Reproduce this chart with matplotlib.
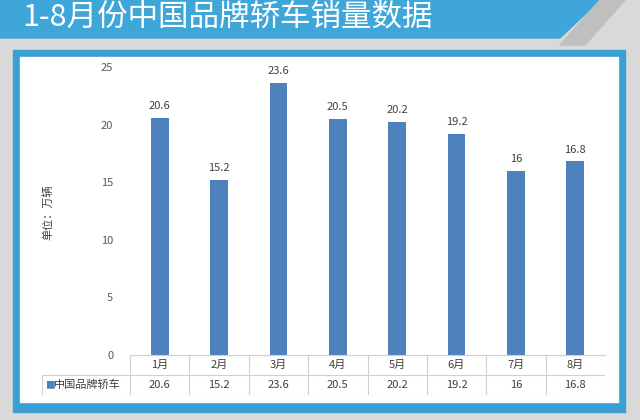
import matplotlib
matplotlib.use("Agg")
import matplotlib.pyplot as plt
from matplotlib.patches import Rectangle, Polygon

plt.rcParams['font.family'] = ['Noto Sans CJK SC', 'DejaVu Sans']

months = ["1月", "2月", "3月", "4月", "5月", "6月", "7月", "8月"]
sales = [20.6, 15.2, 23.6, 20.5, 20.2, 19.2, 16, 16.8]
labels = ["20.6", "15.2", "23.6", "20.5", "20.2", "19.2", "16", "16.8"]
series_name = "中国品牌轿车"
title = "1-8月份中国品牌轿车销量数据"
yticks = [0, 5, 10, 15, 20, 25]

W, H = 640, 420
fig = plt.figure(figsize=(6.4, 4.2), dpi=100)
fig.patch.set_facecolor("#d9d9d9")
bg = fig.add_axes([0, 0, 1, 1]); bg.set_xlim(0, W); bg.set_ylim(H, 0); bg.axis("off")
bg.add_patch(Polygon([[0, 0], [600, 0], [560, 38], [0, 38]], color="#3ea6d8"))
bg.add_patch(Polygon([[600, 0], [625, 0], [585, 45], [560, 45]], color="#bfbfbf"))
bg.text(22, 17, title, color="white", fontsize=22, va="center", ha="left")
bg.add_patch(Rectangle((13, 50), 612, 362, color="#3a9fd3"))
bg.add_patch(Rectangle((20, 57), 598, 345, color="white"))
bg.text(48, 212, "单位：万辆", rotation=90, fontsize=8, color="#404040", ha="center", va="center")

def px(x0, y0, x1, y1):
    return [x0 / W, 1 - y1 / H, (x1 - x0) / W, (y1 - y0) / H]

ax = fig.add_axes(px(130, 67, 605, 355))
x = list(range(len(months)))
ax.bar(x, sales, width=0.3, color="#4f81bd")
for xi, v, l in zip(x, sales, labels):
    ax.text(xi, v + 0.6, l, ha="center", va="bottom", fontsize=8, color="#404040")
ax.set_xlim(-0.5, len(months) - 0.5)
ax.set_ylim(0, 25)
ax.set_yticks(yticks)
ax.tick_params(axis="y", length=0, labelsize=8, labelcolor="#595959", pad=12)
ax.set_xticks([])
for s in ["top", "right", "left"]:
    ax.spines[s].set_visible(False)
ax.spines["bottom"].set_color("#d0d0d0")

# data table
tb = fig.add_axes(px(42, 355, 605, 395))
left = -0.5 - 88 / ((605 - 130) / 8)
tb.set_xlim(left, len(months) - 0.5)
tb.set_ylim(2, 0)
tb.axis("off")
lc = "#d0d0d0"
tb.plot([-0.5, 7.5], [0, 0], color=lc, lw=0.8)
tb.plot([left, 7.5], [1, 1], color=lc, lw=0.8)
tb.plot([left, 7.5], [2, 2], color=lc, lw=0.8)
tb.plot([left, left], [1, 2], color=lc, lw=0.8)
for i in range(len(months) + 1):
    tb.plot([i - 0.5, i - 0.5], [0, 2], color=lc, lw=0.8)
for i, (m, l) in enumerate(zip(months, labels)):
    tb.text(i, 0.5, m, ha="center", va="center", fontsize=8, color="#404040")
    tb.text(i, 1.5, l, ha="center", va="center", fontsize=8, color="#404040")
tb.text(left + 0.05, 1.5, "■", ha="left", va="center", fontsize=7, color="#4f81bd")
tb.text(left + 0.2, 1.5, series_name, ha="left", va="center", fontsize=8, color="#404040")

fig.savefig("out.png", dpi=100, facecolor=fig.get_facecolor())
